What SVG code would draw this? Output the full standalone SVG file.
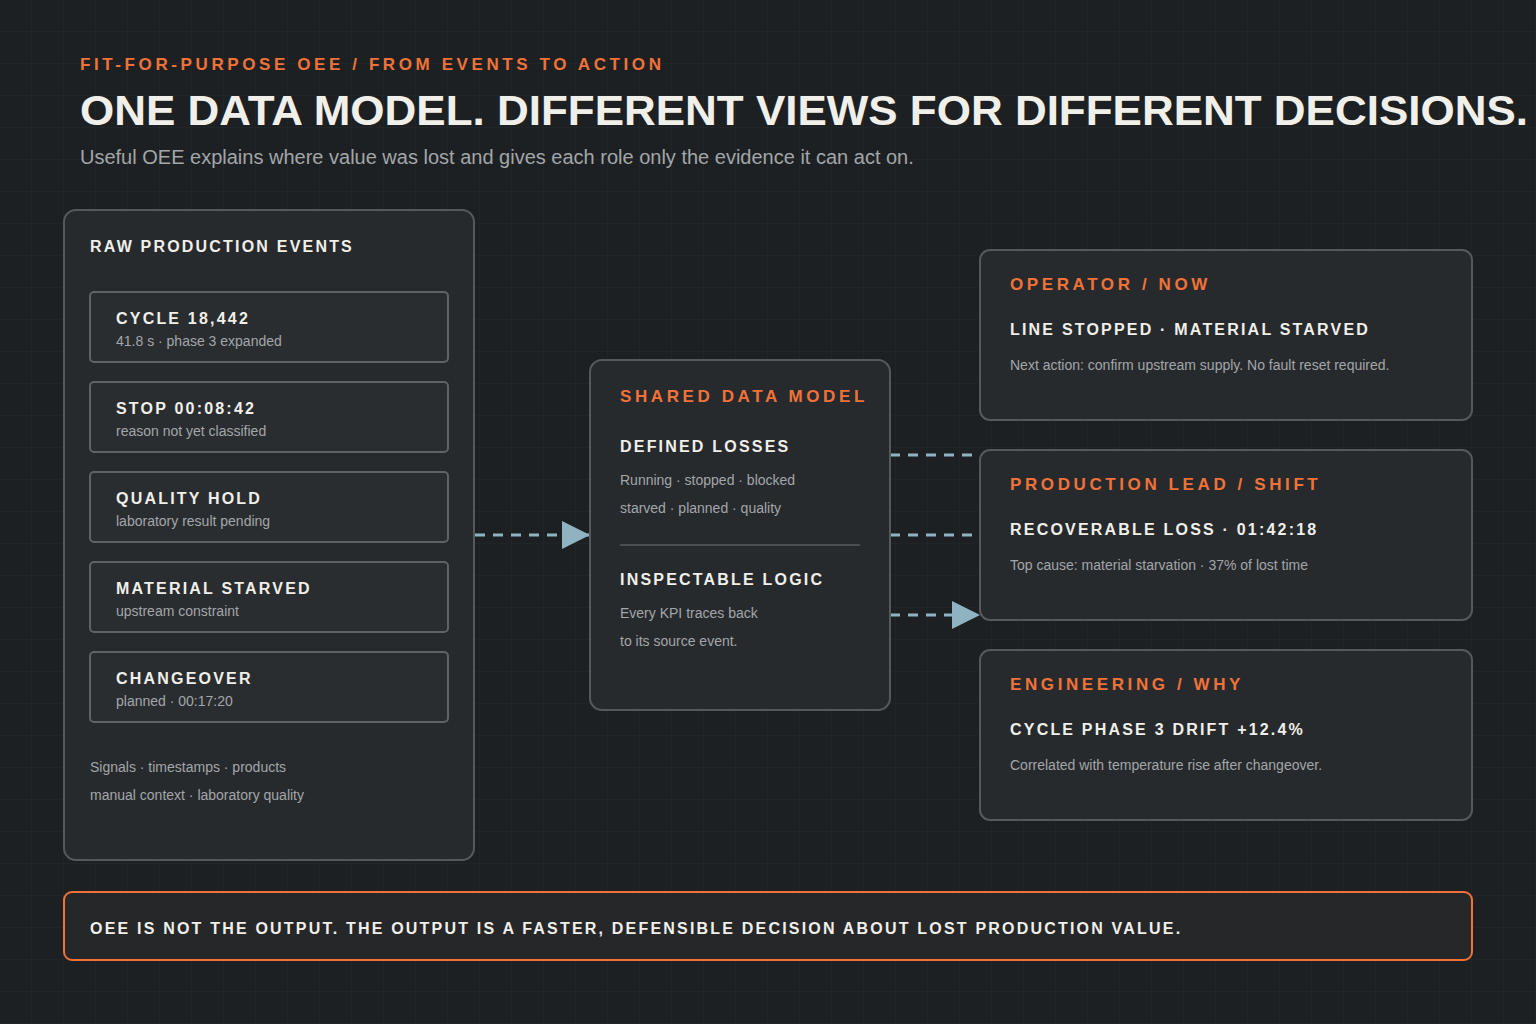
<svg xmlns="http://www.w3.org/2000/svg" width="1536" height="1024" viewBox="0 0 1536 1024">
<defs>
<pattern id="grid" width="32" height="32" patternUnits="userSpaceOnUse"><path d="M32 0V32H0" fill="none" stroke="#262a2c" stroke-width="1"/></pattern>
<marker id="arr" viewBox="0 0 10 10" refX="10" refY="5" markerWidth="28" markerHeight="28" markerUnits="userSpaceOnUse" orient="auto"><path d="M0 0L10 5L0 10Z" fill="#8fb3c0"/></marker>
<style>
.card{fill:#272a2d;stroke:#55595c;stroke-width:2}
.ev{fill:#2a2d30;stroke:#5f6366;stroke-width:2}
.t{font-family:"Liberation Sans",Arial,sans-serif}
.h{font-weight:bold;fill:#f1efe9;letter-spacing:2.2px;font-size:16px}
.o{font-weight:bold;fill:#f07238;letter-spacing:3.6px;font-size:17px}
.s{fill:#a3a6a8;font-size:14px}
.c{fill:none;stroke:#8fb3c0;stroke-width:3;stroke-dasharray:10 8}
</style>
</defs>
<rect width="1536" height="1024" fill="#1d2022"/>
<rect width="1536" height="1024" fill="url(#grid)"/>
<g id="header" class="t">
<text x="80" y="70" class="o">FIT-FOR-PURPOSE OEE / FROM EVENTS TO ACTION</text>
<text x="80" y="125" font-size="42" font-weight="bold" fill="#f1efe9" textLength="1448" lengthAdjust="spacingAndGlyphs">ONE DATA MODEL. DIFFERENT VIEWS FOR DIFFERENT DECISIONS.</text>
<text x="80" y="164" font-size="20" fill="#a3a6a8">Useful OEE explains where value was lost and gives each role only the evidence it can act on.</text>
</g>
<g id="connectors">
<line x1="475" y1="535" x2="590" y2="535" class="c" marker-end="url(#arr)"/>
<line x1="890" y1="455" x2="972" y2="455" class="c"/>
<line x1="890" y1="535" x2="972" y2="535" class="c"/>
<line x1="890" y1="615" x2="980" y2="615" class="c" marker-end="url(#arr)"/>
</g>
<g id="raw" class="t">
<rect x="64" y="210" width="410" height="650" rx="12" class="card"/>
<text x="90" y="252" class="h">RAW PRODUCTION EVENTS</text>
<rect x="90" y="292" width="358" height="70" rx="4" class="ev"/>
<text x="116" y="324" class="h">CYCLE 18,442</text><text x="116" y="346" class="s">41.8 s · phase 3 expanded</text>
<rect x="90" y="382" width="358" height="70" rx="4" class="ev"/>
<text x="116" y="414" class="h">STOP 00:08:42</text><text x="116" y="436" class="s">reason not yet classified</text>
<rect x="90" y="472" width="358" height="70" rx="4" class="ev"/>
<text x="116" y="504" class="h">QUALITY HOLD</text><text x="116" y="526" class="s">laboratory result pending</text>
<rect x="90" y="562" width="358" height="70" rx="4" class="ev"/>
<text x="116" y="594" class="h">MATERIAL STARVED</text><text x="116" y="616" class="s">upstream constraint</text>
<rect x="90" y="652" width="358" height="70" rx="4" class="ev"/>
<text x="116" y="684" class="h">CHANGEOVER</text><text x="116" y="706" class="s">planned · 00:17:20</text>
<text x="90" y="772" class="s">Signals · timestamps · products</text>
<text x="90" y="800" class="s">manual context · laboratory quality</text>
</g>
<g id="model" class="t">
<rect x="590" y="360" width="300" height="350" rx="12" class="card"/>
<text x="620" y="402" class="o">SHARED DATA MODEL</text>
<text x="620" y="452" class="h">DEFINED LOSSES</text>
<text x="620" y="485" class="s">Running · stopped · blocked</text>
<text x="620" y="513" class="s">starved · planned · quality</text>
<line x1="620" y1="545" x2="860" y2="545" stroke="#4a4e51" stroke-width="2"/>
<text x="620" y="585" class="h">INSPECTABLE LOGIC</text>
<text x="620" y="618" class="s">Every KPI traces back</text>
<text x="620" y="646" class="s">to its source event.</text>
</g>
<g id="operator" class="t">
<rect x="980" y="250" width="492" height="170" rx="10" class="card"/>
<text x="1010" y="290" class="o">OPERATOR / NOW</text>
<text x="1010" y="335" class="h">LINE STOPPED · MATERIAL STARVED</text>
<text x="1010" y="370" class="s">Next action: confirm upstream supply. No fault reset required.</text>
</g>
<g id="lead" class="t">
<rect x="980" y="450" width="492" height="170" rx="10" class="card"/>
<text x="1010" y="490" class="o">PRODUCTION LEAD / SHIFT</text>
<text x="1010" y="535" class="h">RECOVERABLE LOSS · 01:42:18</text>
<text x="1010" y="570" class="s">Top cause: material starvation · 37% of lost time</text>
</g>
<g id="engineering" class="t">
<rect x="980" y="650" width="492" height="170" rx="10" class="card"/>
<text x="1010" y="690" class="o">ENGINEERING / WHY</text>
<text x="1010" y="735" class="h">CYCLE PHASE 3 DRIFT +12.4%</text>
<text x="1010" y="770" class="s">Correlated with temperature rise after changeover.</text>
</g>
<g id="footer" class="t">
<rect x="64" y="892" width="1408" height="68" rx="8" fill="#262729" stroke="#f07238" stroke-width="2"/>
<text x="90" y="934" class="h">OEE IS NOT THE OUTPUT. THE OUTPUT IS A FASTER, DEFENSIBLE DECISION ABOUT LOST PRODUCTION VALUE.</text>
</g>
</svg>
